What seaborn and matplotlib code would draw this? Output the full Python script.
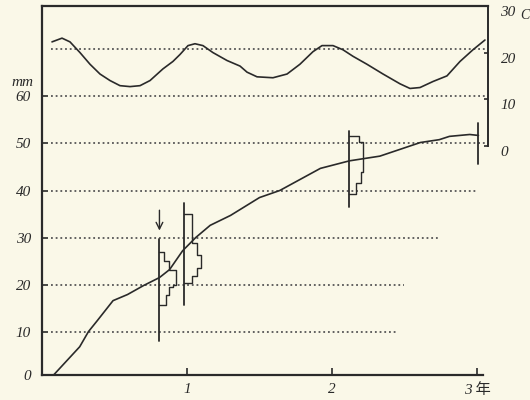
import numpy as np
import matplotlib
matplotlib.use("Agg")
import matplotlib.pyplot as plt
import seaborn as sns

# growth curve (years, mm)
years_growth = [0.08, 0.26, 0.32, 0.38, 0.49, 0.59, 0.70, 0.81, 0.88, 0.97, 1.06, 1.16,
                1.30, 1.50, 1.64, 1.92, 2.12, 2.33, 2.61, 2.74, 2.81, 2.95, 3.01]
length_mm = [0.8, 6.8, 10.0, 12.3, 16.6, 17.9, 19.8, 21.5, 23.2, 27.2, 30.0, 32.6,
             34.7, 38.5, 40.0, 44.7, 46.3, 47.3, 50.2, 50.8, 51.5, 51.9, 51.7]

# water temperature (years, deg C) - right axis
years_temp = [0.069, 0.138, 0.193, 0.262, 0.331, 0.400, 0.469, 0.538, 0.607, 0.676,
              0.745, 0.834, 0.903, 0.952, 1.007, 1.055, 1.110, 1.179, 1.276, 1.366,
              1.414, 1.483, 1.593, 1.690, 1.779, 1.869, 1.931, 2.007, 2.076, 2.145,
              2.241, 2.352, 2.469, 2.538, 2.607, 2.697, 2.793, 2.883, 2.972, 3.055]
temp_c = [22.3, 23.1, 22.3, 20.0, 17.5, 15.4, 14.0, 12.9, 12.7, 12.9,
          14.0, 16.5, 18.1, 19.6, 21.5, 21.9, 21.5, 20.0, 18.3, 17.1,
          15.8, 14.8, 14.6, 15.4, 17.5, 20.2, 21.5, 21.5, 20.6, 19.2,
          17.5, 15.4, 13.3, 12.3, 12.5, 13.8, 15.0, 18.1, 20.6, 22.7]

# length-frequency samples: position (years), vertical range (mm), bin edges (mm), counts
hist_pos = [0.81, 0.98, 2.12]
hist_span = [(8.0, 29.6), (15.7, 37.4), (36.6, 52.6)]
hist_edges = [[27.0, 25.1, 23.2, 20.0, 19.4, 17.7, 15.6],
              [35.1, 32.6, 28.9, 26.4, 23.6, 21.9, 20.4],
              [51.5, 50.2, 43.9, 41.6, 39.2]]
hist_counts = [[3, 6, 10, 8, 6, 4],
               [5, 5, 8, 10, 8, 5],
               [6, 8, 7, 4]]
count_unit = 0.0115  # years per count on the drawing

end_pos = 3.01
end_span = (45.7, 54.3)

grid_levels = [10, 20, 30, 40, 50, 60, 70]
grid_ends = [2.45, 2.50, 2.74, 2.99, 3.07, 3.07, 3.07]

y_ticks = [0.8, 10, 20, 30, 40, 50, 60]
y_labels = ["0", "10", "20", "30", "40", "50", "60"]
t_ticks = [0, 10, 20, 30]
x_ticks = [1, 2, 3]
x_labels = ["1", "2", "3 年"]

paper = "#faf8e8"
ink = "#2a2a2a"

sns.set_theme(style="white")
plt.rcParams["font.family"] = ["Liberation Serif", "Noto Sans CJK JP"]
plt.rcParams["font.style"] = "italic"

fig = plt.figure(figsize=(5.3, 4.0), dpi=100, facecolor=paper)
ax = fig.add_axes([42 / 530, 25 / 400, 446 / 530, 369 / 400])
ax.set_facecolor(paper)
ax.set_xlim(0, 3.076)
ax.set_ylim(0.8, 79.2)

# dotted guide lines
ax.hlines(grid_levels, 0.06, grid_ends, colors="#555555", linewidth=1.3,
          linestyles=(0, (1, 1.6)))

sns.lineplot(x=years_growth, y=length_mm, ax=ax, color=ink, linewidth=1.2,
             sort=False, estimator=None)

for pos, span, edges, counts in zip(hist_pos, hist_span, hist_edges, hist_counts):
    ax.plot([pos, pos], span, color=ink, linewidth=1.3)
    xs, ys = [pos], [edges[0]]
    for i, c in enumerate(counts):
        xs += [pos + c * count_unit, pos + c * count_unit]
        ys += [edges[i], edges[i + 1]]
    xs.append(pos)
    ys.append(edges[-1])
    ax.plot(xs, ys, color=ink, linewidth=1.0)

ax.plot([end_pos, end_pos], end_span, color=ink, linewidth=1.3)
ax.annotate("", xy=(hist_pos[0], 30.9), xytext=(hist_pos[0], 36.4),
            arrowprops=dict(arrowstyle="->", color=ink, lw=1.0))

ax2 = ax.twinx()
ax2.set_ylim(-49.2, 30)
sns.lineplot(x=years_temp, y=temp_c, ax=ax2, color=ink, linewidth=1.2,
             sort=False, estimator=None)

ax.set_yticks(y_ticks)
ax.set_yticklabels(y_labels)
ax.set_xticks(x_ticks)
ax.set_xticklabels(x_labels)
ax2.set_yticks(t_ticks)
ax2.set_yticklabels([str(t) for t in t_ticks])
ax.set_xlabel("")
ax.set_ylabel("")
ax2.set_ylabel("")

ax.tick_params(axis="y", direction="in", length=4, width=1.2, color=ink,
               labelsize=11, pad=8, labelcolor=ink, left=True)
ax.tick_params(axis="x", direction="in", length=5, width=1.2, color=ink,
               labelsize=11, pad=6, labelcolor=ink, bottom=True)
ax2.tick_params(axis="y", direction="in", length=3, width=1.2, color=ink,
                labelsize=11, pad=9, labelcolor=ink, right=True)
for lbl in ax2.get_yticklabels():
    lbl.set_va("top")

for s in ["left", "top", "bottom"]:
    ax.spines[s].set_color(ink)
    ax.spines[s].set_linewidth(1.6)
ax.spines["right"].set_visible(False)
ax.spines["bottom"].set_bounds(0, 3.04)
for s in ["left", "top", "bottom"]:
    ax2.spines[s].set_visible(False)
ax2.spines["right"].set_color(ink)
ax2.spines["right"].set_linewidth(1.4)
ax2.spines["right"].set_bounds(0, 30)

ax.annotate("mm", xy=(0, 60), xycoords="data", xytext=(-6, 10),
            textcoords="offset points", ha="right", va="center",
            fontsize=11, color=ink)
ax2.annotate("C", xy=(3.076, 30), xycoords="data", xytext=(23, -7),
             textcoords="offset points", ha="left", va="center",
             fontsize=10, color=ink, annotation_clip=False)

fig.savefig("out.png", dpi=100, facecolor=paper)
